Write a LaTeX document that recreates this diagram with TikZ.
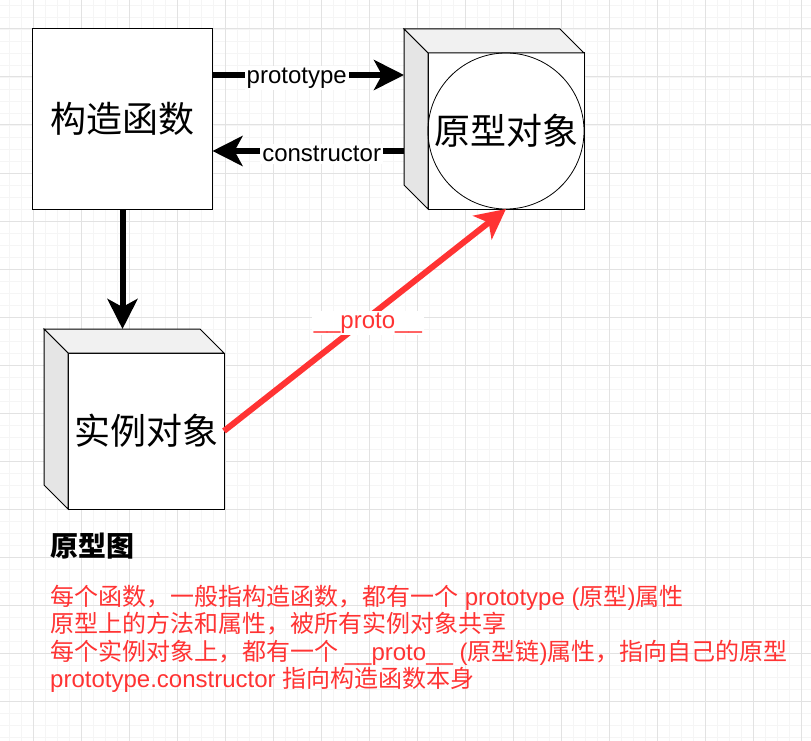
\documentclass[tikz,border=0pt]{standalone}
\usepackage{fontspec}
\setmainfont{Liberation Sans}
\newfontfamily\cjk{Noto Sans CJK SC}
\usetikzlibrary{arrows.meta,calc}
\definecolor{redc}{HTML}{FF3333}
\definecolor{gridmajor}{HTML}{E2E2E2}
\definecolor{gridminor}{HTML}{F5F5F5}
\definecolor{topc}{HTML}{F1F1F1}
\definecolor{leftc}{HTML}{E5E5E5}
\newcommand\zh[1]{{\cjk #1}}
\tikzset{
  box/.style={draw=black, line width=1pt, fill=white, minimum width=180pt, minimum height=180pt,
    inner sep=0pt, outer sep=0pt, font=\cjk\fontsize{36}{40}\selectfont},
  face/.style={draw=black, line width=1pt, fill=white, minimum width=156pt, minimum height=156pt,
    inner sep=0pt, outer sep=0pt, font=\cjk\fontsize{36}{40}\selectfont},
  fatarrow/.style={line width=6pt, -{Stealth[length=30pt,width=30pt,inset=8pt]}},
  lbl/.style={fill=white, font=\fontsize{24}{28}\selectfont, inner sep=2pt, yshift=-3pt},
  topface/.style={draw=black, line width=1pt, fill=topc, line join=miter},
  leftface/.style={draw=black, line width=1pt, fill=leftc, line join=miter},
  redtext/.style={anchor=base west, text=redc, inner sep=0pt, font=\fontsize{24}{28}\selectfont},
}
\begin{document}
\begin{tikzpicture}[x=1pt,y=-1pt]
\useasboundingbox (0,0) rectangle (811,741);
\fill[white] (0,0) rectangle (811,741);
% grid
\foreach \i in {-2,...,66} {\draw[gridminor, line width=0.8pt] ({33+12*\i},0) -- ({33+12*\i},741);}
\foreach \i in {-2,...,60} {\draw[gridminor, line width=0.8pt] (0,{29+12*\i}) -- (811,{29+12*\i});}
\foreach \i in {-1,...,16} {\draw[gridmajor, line width=1pt] ({33+48*\i},0) -- ({33+48*\i},741);}
\foreach \i in {-1,...,15} {\draw[gridmajor, line width=1pt] (0,{29+48*\i}) -- (811,{29+48*\i});}

% nodes
\node[box] (ctor) at (122.5,119) {构造函数};

\node[face] (proto) at (506,131) {};
\draw[topface] (proto.north west) -- ++(-24,-24) -- ++(156,0) -- (proto.north east) -- cycle;
\draw[leftface] (proto.north west) -- ++(-24,-24) -- ++(0,156) -- (proto.south west) -- cycle;
\draw[line width=0.8pt] (proto.center) circle[radius=78pt];
\node[font=\cjk\fontsize{36}{40}\selectfont, inner sep=0pt] (protolbl) at (proto.center) {原型对象};

\node[face] (inst) at (146,431) {实例对象};
\draw[topface] (inst.north west) -- ++(-24,-24) -- ++(156,0) -- (inst.north east) -- cycle;
\draw[leftface] (inst.north west) -- ++(-24,-24) -- ++(0,156) -- (inst.south west) -- cycle;
\coordinate (insttop) at ($(inst.north)+(0,-24)$);

% connectors
\draw[fatarrow] ($(ctor.north east)+(0,46)$) -- ($(proto.north west)+(-24,22)$)
  node[lbl, pos=0.44] {prototype};
\draw[fatarrow] ($(proto.north west)+(-24,98)$) -- ($(ctor.north east)+(0,122)$)
  node[lbl, pos=0.43] {constructor};
\draw[fatarrow] (ctor.south) -- (ctor.south |- insttop);
\draw[fatarrow, redc] (inst.east) -- (proto.south)
  node[lbl, text=redc, pos=0.51, yshift=-2pt] {\_\_proto\_\_};

% text
\node[anchor=base west, inner sep=0pt, font=\cjk\bfseries\fontsize{28}{32}\selectfont] (title) at (50,556) {原型图};
\node[redtext] (l1) at (50,605) {\zh{每个函数，一般指构造函数，都有一个} prototype (\zh{原型})\zh{属性}};
\node[redtext] (l2) at (50,632) {\zh{原型上的方法和属性，被所有实例对象共享}};
\node[redtext] (l3) at (50,660) {\zh{每个实例对象上，都有一个} \_\_proto\_\_ (\zh{原型链})\zh{属性，指向自己的原型}};
\node[redtext] (l4) at (50,687) {prototype.constructor \zh{指向构造函数本身}};
\end{tikzpicture}
\end{document}
